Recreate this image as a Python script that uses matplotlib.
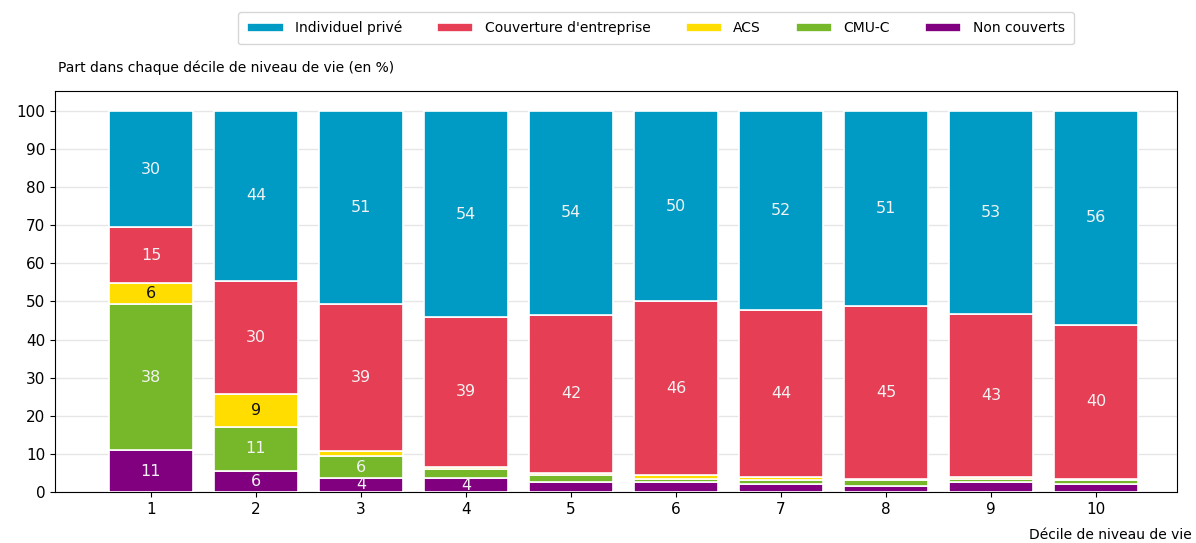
import matplotlib
matplotlib.use("Agg")
import matplotlib.pyplot as plt
import numpy as np

deciles = ["1", "2", "3", "4", "5", "6", "7", "8", "9", "10"]
non_couverts = [10.9, 5.6, 3.7, 3.6, 2.6, 2.6, 2.0, 1.6, 2.6, 2.0]
cmu_c = [38.4, 11.4, 5.7, 2.3, 1.9, 0.8, 1.1, 1.5, 0.9, 1.1]
acs = [5.6, 8.8, 1.3, 0.7, 0.5, 1.0, 0.7, 0.4, 0.4, 0.4]
entreprise = [14.6, 29.7, 38.6, 39.3, 41.5, 45.6, 44.0, 45.3, 42.8, 40.4]
individuel = [30.5, 44.4, 50.7, 54.0, 53.5, 50.0, 52.2, 51.2, 53.3, 56.1]

series = [
    ("Non couverts", non_couverts, "#800080", "#f2f2f2"),
    ("CMU-C", cmu_c, "#76B82A", "#f2f2f2"),
    ("ACS", acs, "#FFDD00", "#111111"),
    ("Couverture d'entreprise", entreprise, "#E63E55", "#f2f2f2"),
    ("Individuel privé", individuel, "#009BC4", "#f2f2f2"),
]

fig = plt.figure(figsize=(11.96, 5.43), dpi=100)
ax = fig.add_axes([0.046, 0.094, 0.938, 0.738])
x = np.arange(1, len(deciles) + 1)
bottom = np.zeros(len(deciles))
handles = {}
for name, vals, col, tcol in series:
    vals = np.array(vals)
    bars = ax.bar(x, vals, width=0.8, bottom=bottom, color=col,
                  edgecolor="white", linewidth=1.2, label=name, zorder=3)
    handles[name] = bars
    for xi, b, v in zip(x, bottom, vals):
        if v >= 3.5:
            ax.text(xi, b + v / 2, f"{v:.0f}", ha="center", va="center",
                    color=tcol, fontsize=11.5, zorder=4)
    bottom = bottom + vals

ax.set_xlim(0.086, 10.77)
ax.set_ylim(0, 105.2)
ax.set_xticks(x)
ax.set_xticklabels(deciles, fontsize=11)
ax.set_yticks(np.arange(0, 101, 10))
ax.tick_params(axis="y", labelsize=11)
ax.yaxis.grid(True, color="#e6e6e6", linewidth=1, zorder=0)
ax.set_axisbelow(True)

fig.text(58 / 1196, 1 - 68 / 543, "Part dans chaque décile de niveau de vie (en %)",
         ha="left", va="center", fontsize=10)
fig.text(1192 / 1196, 1 - 535 / 543, "Décile de niveau de vie",
         ha="right", va="center", fontsize=10)

order = ["Individuel privé", "Couverture d'entreprise", "ACS", "CMU-C", "Non couverts"]
fig.legend([handles[n] for n in order], order, ncol=5, loc="center",
           bbox_to_anchor=(656 / 1196, 1 - 28 / 543), fontsize=10,
           frameon=True, edgecolor="#cccccc", columnspacing=2.55,
           handlelength=2.6, handleheight=0.6, borderpad=0.65)

fig.savefig("out.png", dpi=100)
